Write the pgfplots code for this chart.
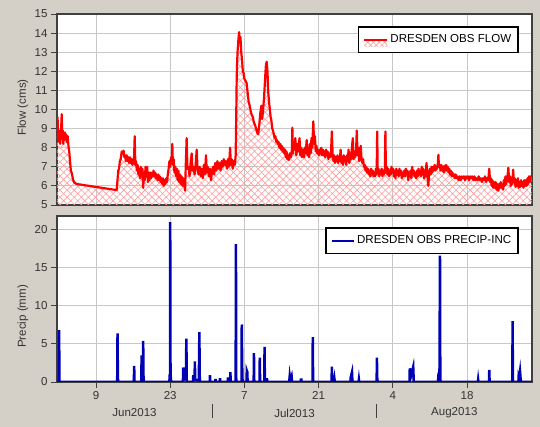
\documentclass[border=0pt]{standalone}
\usepackage{fontspec}
\setmainfont{Liberation Sans}
\usepackage{pgfplots}
\usepackage{pgfplotstable}
\pgfplotsset{compat=1.18}
\usetikzlibrary{patterns.meta}
\definecolor{winbg}{HTML}{D4D0C8}
\definecolor{flowred}{HTML}{FF0000}
\definecolor{hatchred}{HTML}{FF9C9C}
\definecolor{precipblue}{HTML}{0000B4}
\definecolor{gridgray}{HTML}{C8C8C8}
\definecolor{framegray}{HTML}{404040}

% x = day counted from 31 May 2013 (Jun 9 = 9, Jul 7 = 37, Aug 4 = 65)
\pgfplotstableread{
x y
1.64 9.0
1.75 9.6
1.85 8.4
1.95 8.9
2.05 8.3
2.15 8.7
2.25 8.2
2.35 8.8
2.45 9.2
2.53 9.75
2.62 8.6
2.72 8.9
2.82 8.2
2.92 8.7
3.02 8.4
3.12 8.8
3.22 8.5
3.35 8.7
3.5 8.3
3.65 8.6
3.8 8.1
3.95 7.8
4.1 7.3
4.25 6.8
4.4 6.7
4.55 6.5
4.7 6.3
4.85 6.2
5.04 6.15
5.35 6.1
12.9 5.78
13.05 6.3
13.2 6.8
13.35 6.9
13.5 7.3
13.65 7.4
13.85 7.8
14.0 7.7
14.2 7.85
14.35 7.5
14.5 7.6
14.65 7.3
14.8 7.6
14.95 7.3
15.1 7.5
15.25 7.2
15.4 7.5
15.55 7.2
15.7 7.4
15.85 7.1
16.0 7.4
16.15 7.2
16.3 8.6
16.42 7.1
16.55 7.3
16.7 6.8
16.85 7.1
17.0 6.6
17.15 6.9
17.3 6.4
17.45 7.0
17.6 6.5
17.75 6.9
17.9 5.9
18.05 6.7
18.2 6.3
18.35 7.0
18.5 6.5
18.65 7.0
18.8 6.2
18.95 6.7
19.1 6.3
19.25 6.7
19.4 6.4
19.55 6.7
19.7 6.5
19.85 6.8
20.0 6.5
20.15 6.7
20.3 6.4
20.45 6.6
20.6 6.3
20.75 6.6
20.9 6.3
21.05 6.5
21.2 6.2
21.35 6.4
21.5 6.1
21.65 6.4
21.8 6.0
21.95 6.3
22.1 6.1
22.25 6.4
22.4 6.2
22.55 6.6
22.7 6.9
22.85 7.3
23.0 7.0
23.15 7.5
23.3 7.2
23.4 8.2
23.5 7.1
23.65 7.4
23.8 6.7
23.95 7.0
24.1 6.5
24.25 6.9
24.4 6.3
24.55 6.8
24.7 6.2
24.85 6.6
25.0 6.1
25.15 6.5
25.3 6.0
25.45 6.4
25.6 6.2
25.8 5.75
25.95 7.2
26.1 8.5
26.25 6.9
26.45 7.0
26.65 6.5
26.85 7.2
27.05 7.7
27.2 6.8
27.4 7.0
27.6 6.6
27.8 7.1
28.0 7.9
28.15 6.9
28.35 6.6
28.55 7.0
28.75 6.5
28.95 6.9
29.15 6.4
29.35 7.1
29.55 6.6
29.75 7.6
29.9 6.7
30.1 7.0
30.3 6.5
30.5 6.9
30.7 6.3
30.9 6.8
31.1 7.0
31.3 6.6
31.5 7.2
31.7 6.8
31.9 7.3
32.1 6.9
32.3 7.2
32.5 6.8
32.7 7.3
32.9 7.0
33.1 7.4
33.3 7.1
33.5 7.3
33.7 6.9
33.9 7.4
34.1 7.0
34.3 8.0
34.45 7.1
34.6 7.4
34.8 6.9
35.0 7.3
35.2 7.1
35.35 7.6
35.45 9.5
35.55 11.8
35.7 13.0
35.85 13.6
36.0 14.05
36.1 13.6
36.25 13.8
36.4 13.0
36.55 12.6
36.7 12.0
36.85 11.9
37.0 11.6
37.2 11.5
37.4 11.4
37.6 10.9
37.8 10.4
38.0 10.2
38.2 9.9
38.4 9.7
38.6 9.6
38.8 9.3
39.0 9.2
39.2 9.0
39.4 8.8
39.6 8.7
39.8 9.2
40.0 9.8
40.2 10.2
40.35 9.5
40.5 9.9
40.7 10.6
40.9 11.6
41.05 12.3
41.2 12.5
41.35 12.0
41.5 10.9
41.65 10.4
41.8 10.0
41.95 9.6
42.1 9.4
42.25 9.0
42.4 8.9
42.55 8.7
42.7 8.5
42.85 8.6
43.0 8.3
43.15 8.4
43.3 8.2
43.45 8.3
43.6 8.0
43.75 8.2
43.9 7.9
44.05 8.1
44.2 7.8
44.35 8.0
44.5 7.7
44.65 7.9
44.8 7.5
44.95 7.8
45.1 7.4
45.25 7.6
45.4 7.35
45.55 7.7
45.7 7.5
45.8 7.5
45.95 7.9
46.05 9.05
46.15 7.7
46.3 8.3
46.45 7.9
46.6 8.5
46.8 7.6
46.95 8.2
47.1 7.8
47.25 8.1
47.4 8.5
47.55 7.6
47.7 8.0
47.85 7.5
48.0 7.9
48.1 7.9
48.25 7.5
48.4 8.0
48.55 7.7
48.75 8.4
48.9 7.6
49.05 8.0
49.2 7.5
49.35 8.2
49.5 7.7
49.65 8.5
49.8 8.0
50.0 9.38
50.15 8.2
50.3 8.6
50.45 7.8
50.6 8.1
50.75 7.7
50.9 7.9
51.05 7.6
51.2 7.9
51.35 7.7
51.5 8.0
51.65 7.6
51.8 7.9
51.95 7.6
52.1 7.8
52.25 7.5
52.4 7.9
52.55 7.6
52.7 7.8
52.85 7.4
53.0 7.7
53.2 7.5
53.35 7.8
53.5 8.85
53.65 7.6
53.8 7.3
53.95 7.6
54.1 7.2
54.25 7.5
54.4 7.3
54.55 7.6
54.7 7.2
54.85 7.5
55.0 7.3
55.15 7.9
55.3 7.2
55.45 7.5
55.6 7.1
55.75 7.6
55.9 7.3
56.05 7.5
56.2 7.1
56.35 7.6
56.5 7.3
56.65 7.9
56.8 7.2
56.95 7.7
57.1 7.4
57.25 7.9
57.45 8.5
57.6 7.4
57.75 7.8
57.9 7.5
58.05 7.7
58.2 8.9
58.35 7.6
58.5 8.0
58.65 7.3
58.8 7.7
58.95 8.1
59.1 7.4
59.25 7.2
59.4 7.4
59.55 7.0
59.7 7.1
59.85 6.8
60.0 7.0
60.15 6.7
60.3 6.9
60.45 6.6
60.6 6.8
60.75 6.5
60.9 6.9
61.05 6.6
61.2 6.8
61.35 6.5
61.5 6.7
61.65 6.5
61.8 6.9
61.95 6.6
62.05 8.85
62.15 6.7
62.3 6.9
62.45 6.5
62.6 6.8
62.75 6.6
62.9 6.9
63.05 6.5
63.2 6.8
63.35 6.6
63.5 6.9
63.6 8.85
63.7 6.7
63.85 7.0
64.0 6.6
64.15 6.9
64.3 6.5
64.45 6.8
64.6 6.6
64.75 7.0
64.9 6.7
65.05 6.9
65.2 6.5
65.35 6.8
65.5 6.4
65.65 6.9
65.8 6.6
65.95 6.8
66.1 6.5
66.25 6.9
66.4 6.6
66.55 6.8
66.7 6.4
66.85 6.7
67.0 6.5
67.15 6.8
67.3 6.5
67.45 6.9
67.6 6.6
67.75 6.8
67.9 6.3
68.05 6.7
68.2 6.5
68.35 6.8
68.5 6.4
68.65 7.0
68.8 6.6
68.95 6.8
69.1 6.5
69.25 6.7
69.4 6.4
69.55 6.8
69.7 6.5
69.85 6.9
70.0 6.6
70.15 6.8
70.3 6.5
70.45 7.0
70.6 6.6
70.75 6.9
70.9 6.4
71.05 6.8
71.2 6.5
71.35 7.2
71.5 6.6
71.7 6.0
71.85 6.7
72.0 6.9
72.15 6.6
72.3 7.0
72.45 6.7
72.6 7.0
72.75 6.8
72.9 7.1
73.05 6.8
73.2 7.0
73.35 6.9
73.5 7.2
73.6 7.63
73.7 7.0
73.85 7.1
74.0 6.8
74.15 7.1
74.3 6.8
74.45 7.0
74.6 6.7
74.75 7.05
74.9 6.8
75.05 7.1
75.2 6.8
75.35 7.0
75.5 6.7
75.65 6.9
75.8 6.6
75.95 6.8
76.1 6.5
76.25 6.7
76.4 6.5
76.55 6.6
76.7 6.4
76.85 6.6
77.0 6.4
77.2 6.5
77.4 6.3
77.6 6.5
77.8 6.3
78.0 6.5
78.2 6.4
78.4 6.5
78.6 6.3
78.8 6.5
79.0 6.4
79.2 6.5
79.4 6.3
79.6 6.5
79.8 6.4
80.0 6.5
80.2 6.3
80.4 6.5
80.6 6.3
80.8 6.4
81.0 6.3
81.2 6.5
81.4 6.3
81.6 6.4
81.8 6.2
82.0 6.4
82.2 6.3
82.4 6.5
82.6 6.2
82.8 6.4
83.0 6.3
83.2 6.9
83.35 6.2
83.5 6.4
83.65 6.0
83.8 6.3
83.95 5.9
84.1 6.2
84.25 5.9
84.4 6.2
84.55 5.8
84.7 6.1
84.9 5.75
85.05 6.1
85.2 5.9
85.35 6.2
85.5 5.9
85.65 6.1
85.8 5.8
85.95 6.3
86.1 6.0
86.25 6.5
86.4 6.1
86.6 6.4
86.8 6.95
86.95 6.2
87.1 6.5
87.25 6.0
87.4 6.4
87.55 6.1
87.7 6.85
87.85 6.2
88.0 6.4
88.15 5.95
88.3 6.3
88.45 6.0
88.6 6.4
88.75 5.9
88.9 6.2
89.05 5.95
89.2 6.3
89.35 6.0
89.5 6.2
89.65 5.9
89.8 6.3
89.95 6.0
90.1 6.3
90.25 6.0
90.4 6.4
90.55 6.1
90.7 6.5
90.85 6.2
91.0 6.5
91.26 6.4
}\flowtab

\pgfplotstableread{
x y
1.64 0
2.0 0
2.04 6.8
2.1 0.2
2.16 0
13.0 0
13.06 6.4
13.12 1.4
13.16 0
16.14 0
16.2 2.1
16.26 0
17.55 0
17.6 3.5
17.7 0.3
17.85 0.3
17.9 5.4
17.96 0.8
18.02 0
22.85 0
22.9 1.0
22.96 0.3
23.0 21.0
23.06 0.5
23.12 0.5
23.18 0
25.4 0
25.45 1.9
25.55 0.3
25.95 0.4
26.05 5.7
26.12 0.2
26.2 0
27.3 0
27.35 0.9
27.45 0.3
27.6 0.3
27.65 2.7
27.72 0.3
28.4 0.2
28.5 6.55
28.57 0.8
28.63 0
30.45 0
30.5 0.9
30.56 0
31.5 0
31.55 0.4
31.6 0
32.35 0
32.4 0.5
32.45 0
33.85 0
33.9 0.6
33.95 0
34.3 0
34.35 1.3
34.42 0
35.35 0
35.4 18.1
35.46 0.3
35.52 0
36.45 0
36.5 7.55
36.56 3.3
36.62 0.5
36.7 0
37.4 0
37.45 1.5
37.55 1.3
37.6 0
38.75 0
38.8 3.8
38.86 0
39.85 0
39.9 3.2
39.96 0
40.75 0
40.8 4.6
40.86 0
41.2 0
41.25 0.5
41.3 0
45.45 0
45.55 0.8
45.65 0.3
45.9 0.8
46.0 0
47.6 0
47.65 0.3
47.75 0.3
47.8 0
49.85 0
49.9 5.9
49.96 0
53.45 0
53.5 2.0
53.56 0
53.95 0
54.0 0.3
54.05 0
57.0 0
57.05 0.6
57.3 1.3
57.38 0
58.55 0
58.6 0.3
58.65 0
61.95 0
62.0 3.2
62.06 0.5
62.15 0
68.15 0
68.2 1.8
68.3 0.4
68.85 2.0
68.95 0
73.5 0
73.6 0.8
73.8 0.6
73.9 16.6
73.96 0.3
74.05 0
81.05 0
81.1 0.3
81.15 0
83.15 0
83.2 1.6
83.26 0
87.55 0
87.6 8.0
87.66 0
88.7 0
88.75 0.8
88.85 0.6
89.0 1.4
89.1 0.5
89.2 0
91.26 0
}\preciptab

\pgfplotsset{hydro/.style={
  scale only axis, width=475bp,
  xmin=1.64, xmax=91.26,
  xtick={9,23,37,51,65,79},
  grid=major, major grid style={gridgray, line width=1bp},
  axis line style={framegray, line width=1.3bp},
  axis background/.style={fill=white},
  tick align=outside, major tick length=6bp,
  xtick pos=bottom, ytick pos=left,
  tick style={framegray, line width=0.9bp},
  /pgf/number format/assume math mode=true,
  tick label style={font=\fontsize{11.6}{13}\selectfont, text=black!80},
  label style={font=\fontsize{11.6}{13}\selectfont, text=black!80},
  legend cell align=left,
  legend style={font=\fontsize{11.6}{13}\selectfont, draw=black, line width=1.6bp,
    fill=white, anchor=north east, inner xsep=5bp, inner ysep=6bp},
}}

\begin{document}
\begin{tikzpicture}
\fill[winbg] (0,0) rectangle (540bp,427bp);

% flow panel
\begin{axis}[hydro, at={(57bp,222bp)}, anchor=south west, height=191bp,
  ymin=5, ymax=15, ytick={5,6,...,15},
  xticklabels={}, xtick style={draw=none},
  ylabel={Flow (cms)},
  ylabel style={at={([xshift=-34bp]rel axis cs:0,0.51)}, anchor=center},
  legend style={at={([xshift=-13bp,yshift=-12bp]rel axis cs:1,1)}}]
\addplot[draw=none, pattern={Hatch[angle=45, distance=5bp, line width=0.6bp]},
  pattern color=hatchred, forget plot] table {\flowtab} \closedcycle;
\addplot[flowred, line width=2.2bp, line join=round,
  legend image code/.code={
    \path[draw=none, pattern={Hatch[angle=45, distance=4bp, line width=0.6bp]}, pattern color=hatchred]
      (0bp,-7bp) rectangle (23bp,0bp);
    \draw[flowred, line width=2bp] (0bp,0bp) -- (23bp,0bp);
  }] table {\flowtab};
\addlegendentry{DRESDEN OBS FLOW}
\end{axis}

% precipitation panel
\begin{axis}[hydro, at={(57bp,45bp)}, anchor=south west, height=166bp,
  ymin=0, ymax=21.8, ytick={0,5,10,15,20},
  xticklabels={9,23,7,21,4,18},
  ylabel={Precip (mm)},
  ylabel style={at={([xshift=-34bp]rel axis cs:0,0.395)}, anchor=center},
  clip mode=individual,
  legend style={at={([xshift=-13bp,yshift=-11bp]rel axis cs:1,1)}}]
\addplot[precipblue, line width=2.5bp,
  legend image code/.code={\draw[precipblue, line width=2bp] (0bp,0bp) -- (22bp,0bp);}]
  table {\preciptab};
\addlegendentry{DRESDEN OBS PRECIP-INC}
\node[font=\fontsize{11.6}{13}\selectfont, text=black!80] at ([yshift=-31bp]axis cs:16.26,0) {Jun2013};
\node[font=\fontsize{11.6}{13}\selectfont, text=black!80] at ([yshift=-31bp]axis cs:46.45,0) {Jul2013};
\node[font=\fontsize{11.6}{13}\selectfont, text=black!80] at ([yshift=-31bp]axis cs:76.6,0) {Aug2013};
\draw[framegray, line width=1bp] ([yshift=-22bp]axis cs:31,0) -- ([yshift=-36bp]axis cs:31,0);
\draw[framegray, line width=1bp] ([yshift=-22bp]axis cs:62,0) -- ([yshift=-36bp]axis cs:62,0);
\end{axis}

\pgfresetboundingbox
\path[use as bounding box] (0,0) rectangle (540bp,427bp);
\end{tikzpicture}
\end{document}
